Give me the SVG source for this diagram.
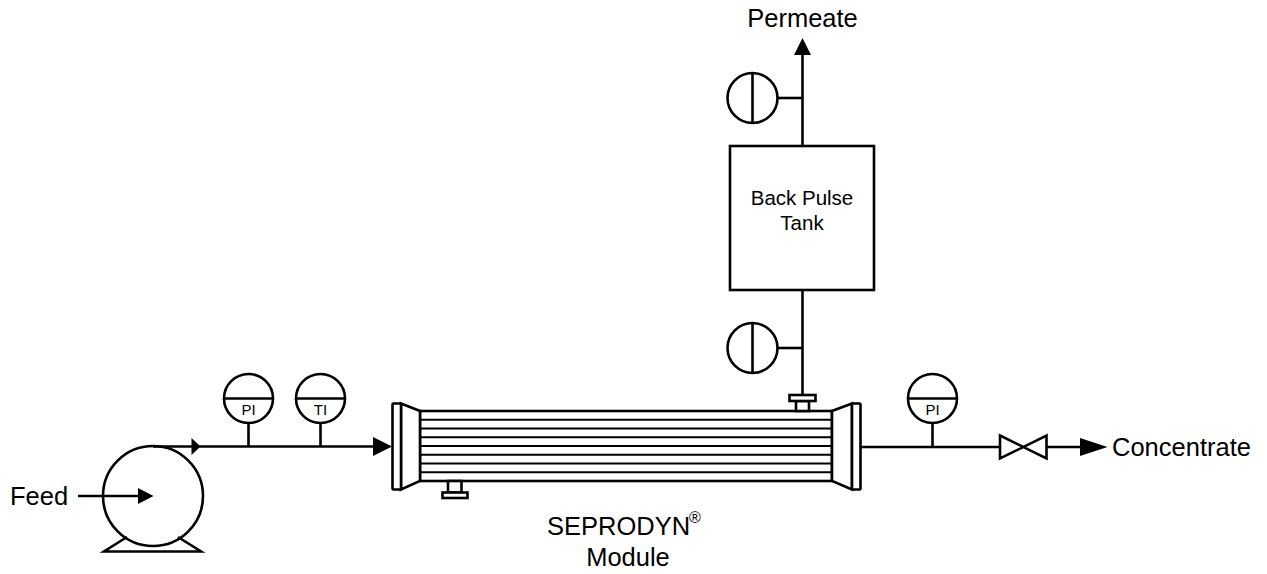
<svg xmlns="http://www.w3.org/2000/svg" width="1267" height="574" viewBox="0 0 1267 574">
<style>
.s{fill:none;stroke:#000;stroke-width:2.6}
.w{fill:#fff;stroke:#000;stroke-width:2.6}
.t{stroke:#000;stroke-width:2.2}
.f{fill:#000;stroke:none}
.lbl{font-family:"Liberation Sans",Arial,sans-serif;font-size:25.5px;fill:#000}
.tk{font-family:"Liberation Sans",Arial,sans-serif;font-size:20.5px;fill:#000;text-anchor:middle}
.ins{font-family:"Liberation Sans",Arial,sans-serif;font-size:15px;fill:#000;text-anchor:middle}
</style>
<rect width="1267" height="574" fill="#fff"/>
<g id="pump">
<circle class="w" cx="153" cy="496" r="50"/>
<polyline class="s" points="127,537 104,551.5 201,551.5 178,537"/>
<text class="lbl" x="10" y="505">Feed</text>
</g>
<g id="pi1">
<circle class="w" cx="248.5" cy="398.5" r="24.5"/>
<line class="s" x1="224" y1="398.5" x2="273" y2="398.5"/>
<text class="ins" x="248.5" y="415">PI</text>
</g>
<g id="ti1">
<circle class="w" cx="320.5" cy="398.5" r="24.5"/>
<line class="s" x1="296" y1="398.5" x2="345" y2="398.5"/>
<text class="ins" x="320.5" y="415">TI</text>
</g>
<g id="module">
<rect class="w" x="420" y="411" width="412" height="70"/>
<g class="t">
<line x1="420" y1="419.75" x2="832" y2="419.75"/>
<line x1="420" y1="428.5" x2="832" y2="428.5"/>
<line x1="420" y1="437.25" x2="832" y2="437.25"/>
<line x1="420" y1="446" x2="832" y2="446"/>
<line x1="420" y1="454.75" x2="832" y2="454.75"/>
<line x1="420" y1="463.5" x2="832" y2="463.5"/>
<line x1="420" y1="472.25" x2="832" y2="472.25"/>
</g>
<polygon class="w" points="401,403.5 420,411 420,481 401,489.5"/>
<rect class="w" x="392.5" y="403.5" width="8.5" height="86" rx="1"/>
<polygon class="w" points="852,403.5 832,411 832,481 852,489.5"/>
<rect class="w" x="852" y="403.5" width="8.5" height="86" rx="1"/>
<rect class="w" x="796" y="401" width="13" height="10"/>
<rect class="w" x="789.5" y="395" width="26" height="6"/>
<rect class="w" x="448" y="481" width="13.5" height="11.5"/>
<rect class="w" x="442.5" y="492.5" width="25" height="5.5"/>
<text class="lbl" x="547" y="535">SEPRODYN</text>
<text class="lbl" x="689" y="523" style="font-size:16px">®</text>
<text class="lbl" x="628" y="566" text-anchor="middle">Module</text>
</g>
<g id="tank">
<rect class="w" x="730" y="146" width="144" height="144"/>
<text class="tk" x="802" y="205">Back Pulse</text>
<text class="tk" x="802" y="230">Tank</text>
</g>
<g id="valve-top">
<circle class="w" cx="752.5" cy="98" r="25"/>
<line class="s" x1="752.5" y1="73" x2="752.5" y2="123"/>
</g>
<g id="valve-bottom">
<circle class="w" cx="752.5" cy="348" r="25"/>
<line class="s" x1="752.5" y1="323" x2="752.5" y2="373"/>
</g>
<g id="pi2">
<circle class="w" cx="932.5" cy="398.5" r="24.5"/>
<line class="s" x1="908" y1="398.5" x2="957" y2="398.5"/>
<text class="ins" x="932.5" y="415">PI</text>
</g>
<g id="valve">
<polygon class="w" points="1000,435.5 1046.5,458.5 1046.5,435.5 1000,458.5"/>
</g>
<g id="labels">
<text class="lbl" x="802.5" y="27" text-anchor="middle">Permeate</text>
<text class="lbl" x="1112" y="456">Concentrate</text>
</g>
<g id="connectors">
<line class="s" x1="153" y1="446.5" x2="376" y2="446.5"/>
<polygon class="f" points="191.5,438 200.5,446.5 191.5,455"/>
<polygon class="f" points="373,437 392,446.5 373,456"/>
<line class="s" x1="861" y1="447" x2="1000" y2="447"/>
<line class="s" x1="1047" y1="447" x2="1082" y2="447"/>
<polygon class="f" points="1080,438 1107.5,447 1080,456"/>
<line class="s" x1="78" y1="496" x2="140" y2="496"/>
<polygon class="f" points="138,488 153.5,496 138,504"/>
<line class="s" x1="802.5" y1="146" x2="802.5" y2="54"/>
<polygon class="f" points="794,55 802.5,38 811,55"/>
<line class="s" x1="802.5" y1="290" x2="802.5" y2="395"/>
<line class="s" x1="777" y1="98" x2="802.5" y2="98"/>
<line class="s" x1="777" y1="348" x2="802.5" y2="348"/>
<line class="s" x1="248.5" y1="423" x2="248.5" y2="446.5"/>
<line class="s" x1="320.5" y1="423" x2="320.5" y2="446.5"/>
<line class="s" x1="932.5" y1="423" x2="932.5" y2="447"/>
</g>
</svg>
